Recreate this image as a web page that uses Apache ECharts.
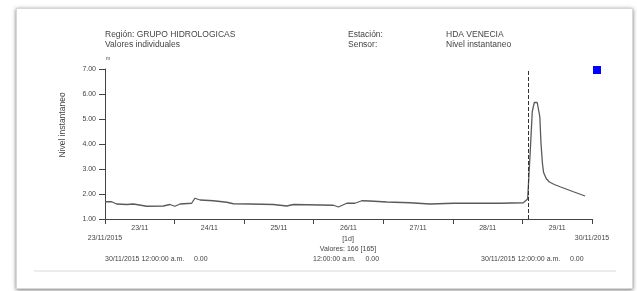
<!DOCTYPE html>
<html>
<head>
<meta charset="utf-8">
<script src="https://cdn.jsdelivr.net/npm/echarts@6/dist/echarts.min.js"></script>
<style>
    html, body { margin: 0; padding: 0; background: #fff; }
    #frame {
        position: absolute; left: 16px; top: 8px; width: 615px; height: 279px;
        border: 1px solid #d8d8d8;
        box-shadow: 0 1px 4px rgba(0, 0, 0, 0.55);
        background: #fff;
    }
    #chart { position: absolute; left: 0; top: 0; width: 637px; height: 291px; }
</style>
</head>
<body>
<div id="frame"></div>
<div id="chart"></div>
<script>
// horas desde 23/11/2015 00:00
const horas = [0, 2.3, 4.0, 7.5, 9.8, 14.4, 20.1, 22.4, 24.1, 25.9, 29.9, 31.0, 32.8, 37.4, 42.0, 44.3,
    50.0, 58.1, 62.7, 65.0, 74.2, 78.8, 80.5, 83.4, 86.2, 88.6, 91.4, 97.2, 105.2, 112.1, 120.2,
    136.3, 144.3, 144.9, 145.8, 146.6, 147.4, 148.1, 149.1, 150.0, 150.4, 150.9, 151.3, 152.2, 153.3,
    155.0, 157.0, 161.6, 165.6];
const nivel = [1.69, 1.69, 1.60, 1.58, 1.60, 1.51, 1.52, 1.58, 1.51, 1.60, 1.63, 1.83, 1.76, 1.73, 1.67, 1.61,
    1.60, 1.58, 1.52, 1.58, 1.56, 1.55, 1.48, 1.63, 1.63, 1.73, 1.72, 1.68, 1.65, 1.60, 1.63,
    1.63, 1.65, 1.69, 1.80, 3.50, 5.30, 5.66, 5.66, 5.09, 4.03, 3.23, 2.86, 2.62, 2.48,
    2.38, 2.29, 2.09, 1.92];
const dias = ["23/11", "24/11", "25/11", "26/11", "27/11", "28/11", "29/11"];
const marcaHora = 145.9;

const chart = echarts.init(document.getElementById("chart"));
const font = "Liberation Sans, Arial, sans-serif";
const gris = "#444";

function texto(x, y, text, extra) {
    return {
        type: "text",
        x, y,
        style: Object.assign({ text, fill: gris, font: "8.5px " + font }, extra || {})
    };
}

chart.setOption({
    animation: false,
    grid: { left: 105, right: 45, top: 69, bottom: 72 },
    legend: {
        left: 588, top: 61,
        itemWidth: 8, itemHeight: 8,
        icon: "rect",
        formatter: () => "",
        data: [{ name: "Nivel instantaneo", itemStyle: { color: "#0000ff" } }]
    },
    xAxis: [{
        type: "value",
        min: 0, max: 168, interval: 24,
        axisLine: { lineStyle: { color: gris, width: 1 } },
        axisTick: { show: true, length: 5, inside: false, lineStyle: { color: gris } },
        splitLine: { show: false },
        axisLabel: {
            margin: 16,
            color: gris, fontSize: 7, fontFamily: font,
            formatter: v => v === 0 ? "23/11/2015" : (v === 168 ? "30/11/2015" : "")
        }
    }, {
        type: "category",
        position: "bottom",
        data: dias,
        boundaryGap: true,
        axisLine: { show: false },
        axisTick: { show: false },
        axisLabel: { margin: 6, color: gris, fontSize: 7, fontFamily: font }
    }],
    yAxis: {
        type: "value",
        min: 1, max: 7, interval: 1,
        axisLine: { show: true, lineStyle: { color: gris } },
        axisTick: { show: true, length: 6, lineStyle: { color: gris } },
        splitLine: { show: false },
        axisLabel: {
            margin: 9,
            color: gris, fontSize: 7, fontFamily: font,
            formatter: v => v.toFixed(2)
        }
    },
    series: [{
        name: "Nivel instantaneo",
        type: "line",
        xAxisIndex: 0,
        data: horas.map((h, i) => [h, nivel[i]]),
        showSymbol: false,
        color: "#5a5a5a",
        lineStyle: { color: "#5a5a5a", width: 1.3 },
        markLine: {
            silent: true,
            symbol: "none",
            label: { show: false },
            lineStyle: { color: "#333", type: "dashed", width: 1 },
            data: [{ xAxis: marcaHora }]
        }
    }],
    graphic: [
        texto(105, 30, "Región: GRUPO HIDROLOGICAS"),
        texto(105, 40, "Valores individuales"),
        texto(348, 30, "Estación:"),
        texto(348, 40, "Sensor:"),
        texto(446, 30, "HDA VENECIA"),
        texto(446, 40, "Nivel instantaneo"),
        texto(106, 56, "m", { font: "5px " + font }),
        {
            type: "text",
            x: 63, y: 125,
            rotation: Math.PI / 2,
            style: { text: "Nivel instantaneo", fill: gris, font: "8.5px " + font, align: "center", verticalAlign: "middle" }
        },
        texto(348, 239, "[1d]", { font: "7px " + font, align: "center", verticalAlign: "middle" }),
        texto(348, 249, "Valores: 166 [165]", { font: "7px " + font, align: "center", verticalAlign: "middle" }),
        texto(105, 259, "30/11/2015 12:00:00 a.m.     0.00", { font: "7px " + font, verticalAlign: "middle" }),
        texto(313, 259, "12:00:00 a.m.     0.00", { font: "7px " + font, verticalAlign: "middle" }),
        texto(481, 259, "30/11/2015 12:00:00 a.m.     0.00", { font: "7px " + font, verticalAlign: "middle" }),
        {
            type: "rect",
            shape: { x: 34, y: 270, width: 582, height: 2 },
            style: { fill: "#ececec" }
        }
    ]
});
</script>
</body>
</html>
